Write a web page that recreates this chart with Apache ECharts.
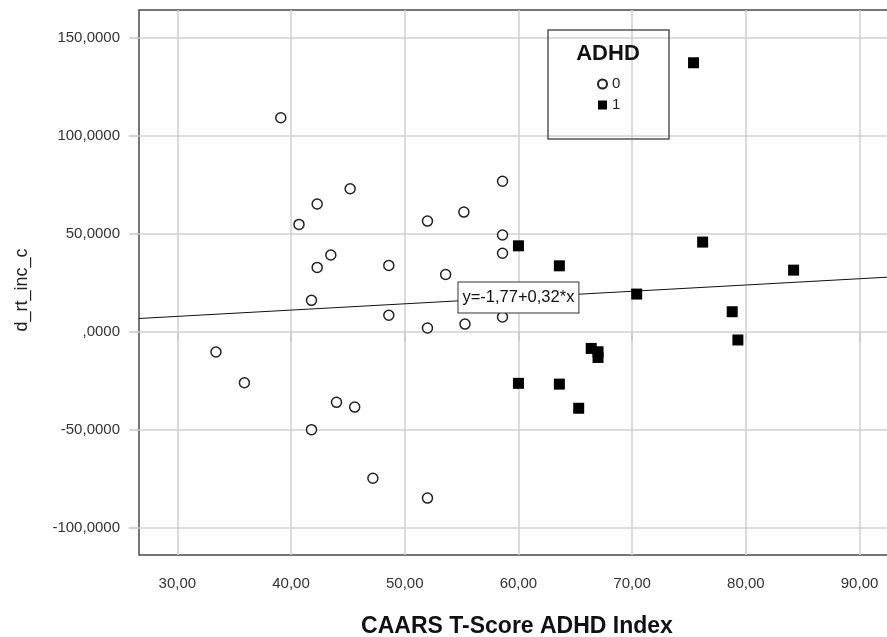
<!DOCTYPE html>
<html>
<head>
<meta charset="utf-8">
<script src="https://cdn.jsdelivr.net/npm/echarts@6/dist/echarts.min.js"></script>
<style>
  html, body { margin: 0; padding: 0; background: #fff; }
  #chart { width: 887px; height: 637px; }
</style>
</head>
<body>
<div id="chart"></div>
<script>
// ADHD = 0 (open circles)
const group0X = [39.1, 45.2, 42.3, 40.7, 58.6, 55.2, 52.0, 58.6, 58.6, 43.5, 42.3, 48.6, 53.6,
  41.8, 48.6, 52.0, 55.3, 58.6, 33.4, 35.9, 44.0, 45.6, 41.8, 47.2, 52.0];
const group0Y = [109.1, 72.9, 65.1, 54.7, 76.7, 61.0, 56.4, 49.3, 40.0, 39.1, 32.8, 33.8, 29.2,
  16.0, 8.4, 1.9, 3.9, 7.5, -10.3, -26.0, -36.0, -38.4, -49.9, -74.7, -84.8];

// ADHD = 1 (filled squares)
const group1X = [75.4, 60.0, 63.6, 76.2, 84.2, 70.4, 78.8, 79.3, 66.4, 67.0, 67.0, 60.0, 63.6, 65.3];
const group1Y = [137.1, 43.8, 33.6, 45.7, 31.4, 19.2, 10.2, -4.2, -8.5, -10.2, -13.1, -26.3, -26.7, -39.0];

// fit line y = a + b*x
const fitIntercept = -1.77;
const fitSlope = 0.32;
const fitLabel = 'y=-1,77+0,32*x';

const xTicks = [30, 40, 50, 60, 70, 80, 90];
const yTicks = [-100, -50, 0, 50, 100, 150];
const xMin = 26.63, xMax = 92.59;
const yMin = -113.8, yMax = 164.0;

const fit = x => fitIntercept + fitSlope * x;
const zip = (xs, ys) => xs.map((x, i) => [x, ys[i]]);

const chart = echarts.init(document.getElementById('chart'));

chart.setOption({
  animation: false,
  textStyle: { fontFamily: 'Liberation Sans, Arial, sans-serif' },
  grid: {
    left: 139, top: 10, right: -2, bottom: 82,
    outerBoundsMode: 'none',
    show: true, borderColor: '#4a4a4a', borderWidth: 1.5
  },
  title: {
    text: 'ADHD',
    left: 603, top: 38, textAlign: 'center',
    textStyle: { fontSize: 22, fontWeight: 'bold', color: '#111' }
  },
  legend: {
    orient: 'vertical',
    left: 592, top: 70,
    itemWidth: 9, itemHeight: 9, itemGap: 3,
    textStyle: { fontSize: 15, color: '#222', lineHeight: 15, padding: [3, 0, 0, 0] },
    data: ['0', '1']
  },
  graphic: [{
    type: 'rect',
    shape: { x: 548, y: 30, width: 121, height: 109 },
    style: { fill: 'none', stroke: '#555', lineWidth: 1.5 },
    z: 10
  }],
  xAxis: {
    type: 'value',
    min: xMin, max: xMax,
    name: 'CAARS T-Score ADHD Index',
    nameLocation: 'middle',
    nameGap: 60,
    nameTextStyle: { fontSize: 23, fontWeight: 'bold', color: '#111', padding: [0, 0, 0, 6] },
    axisLine: { show: false },
    axisTick: { show: true, length: 10, customValues: xTicks, lineStyle: { color: '#c8c8c8', width: 1.5 } },
    axisLabel: {
      customValues: xTicks, margin: 21, fontSize: 15, color: '#333',
      formatter: v => v.toFixed(2).replace('.', ',')
    },
    splitLine: { show: true, lineStyle: { color: '#d0d0d0', width: 1.5 } }
  },
  yAxis: {
    type: 'value',
    min: yMin, max: yMax,
    name: 'd_rt_inc_c',
    nameLocation: 'middle',
    nameGap: 108,
    nameTextStyle: { fontSize: 18, color: '#222', padding: [0, 15, 0, 0] },
    axisLine: { show: false },
    axisTick: { show: true, length: 10, customValues: yTicks, lineStyle: { color: '#c8c8c8', width: 1.5 } },
    axisLabel: {
      customValues: yTicks, margin: 19, fontSize: 15, color: '#333', padding: [7, 0, 0, 0],
      formatter: v => (v === 0 ? ',0000' : v + ',0000')
    },
    splitLine: { show: true, lineStyle: { color: '#d0d0d0', width: 1.5 } }
  },
  series: [
    {
      name: 'fit',
      type: 'line',
      data: [[xMin, fit(xMin)], [xMax, fit(xMax)]],
      showSymbol: false,
      lineStyle: { color: '#111', width: 1 },
      z: 3,
      markPoint: {
        symbol: 'rect',
        symbolSize: 0,
        data: [{ coord: [60, fit(60)] }],
        label: {
          show: true,
          formatter: fitLabel,
          position: 'inside',
          fontSize: 16.5,
          color: '#111',
          backgroundColor: '#fff',
          borderColor: '#333',
          borderWidth: 1,
          padding: [7, 4, 6, 4]
        }
      }
    },
    {
      name: '0',
      type: 'scatter',
      symbol: 'circle',
      symbolSize: 10,
      itemStyle: { color: '#fff', borderColor: '#222', borderWidth: 1.5, opacity: 1 },
      data: zip(group0X, group0Y),
      z: 4
    },
    {
      name: '1',
      type: 'scatter',
      symbol: 'rect',
      symbolSize: 11,
      itemStyle: { color: '#000', opacity: 1 },
      data: zip(group1X, group1Y),
      z: 4
    }
  ]
});
</script>
</body>
</html>
